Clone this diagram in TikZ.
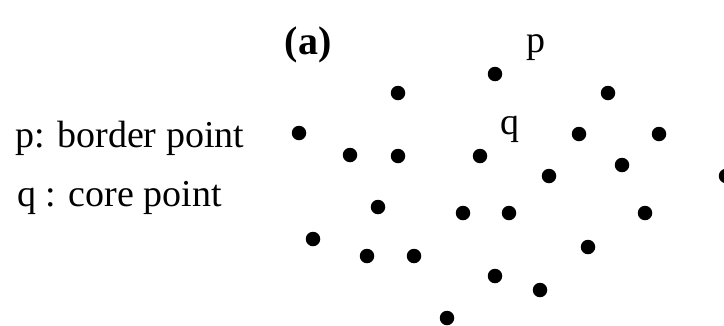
\documentclass[tikz,border=0pt]{standalone}
\usepackage{fontspec}
\setmainfont{Liberation Serif}
\begin{document}
\begin{tikzpicture}[x=1pt,y=-1pt,
  dot/.style={circle,fill=black,inner sep=0pt,minimum size=14.5pt},
  lbl/.style={inner sep=0pt,font=\fontsize{38}{40}\selectfont},
  ttl/.style={inner sep=0pt,font=\fontsize{40}{42}\selectfont\bfseries}]
\useasboundingbox (0,0) rectangle (724,325);
\clip (0,0) rectangle (724,325);
% labels
\node[ttl] (title) at (308,45) {(a)};
\node[lbl,anchor=base west] (lp) at (15,147) {p: border point};
\node[lbl,anchor=base west] (lq) at (17,206) {q : core point};
\node[lbl] (plab) at (536,48) {p};
\node[lbl] (qlab) at (510,129) {q};
% points
\node[dot] (d1) at (299,133) {};
\node[dot] (d2) at (350,155) {};
\node[dot] (d3) at (398,93) {};
\node[dot] (d4) at (398,156) {};
\node[dot] (d5) at (378,207) {};
\node[dot] (d6) at (313,239) {};
\node[dot] (d7) at (367,256) {};
\node[dot] (d8) at (414,256) {};
\node[dot] (d9) at (447,318) {};
\node[dot] (d10) at (463,213) {};
\node[dot] (d11) at (509,213) {};
\node[dot] (d12) at (480,156) {};
\node[dot] (d13) at (495,74) {};
\node[dot] (d14) at (495,276) {};
\node[dot] (d15) at (540,290) {};
\node[dot] (d16) at (549,176) {};
\node[dot] (d17) at (579,134) {};
\node[dot] (d18) at (608,93) {};
\node[dot] (d19) at (622,165) {};
\node[dot] (d20) at (588,247) {};
\node[dot] (d21) at (645,213) {};
\node[dot] (d22) at (659,134) {};
\node[dot] (d23) at (726,176) {};
\end{tikzpicture}
\end{document}
